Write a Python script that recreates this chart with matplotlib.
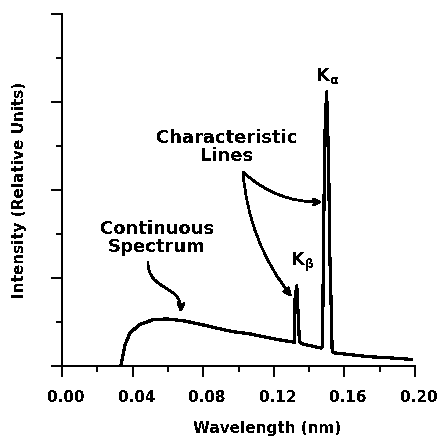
import matplotlib
matplotlib.use("Agg")
import matplotlib.pyplot as plt
from matplotlib.patches import FancyArrowPatch
from matplotlib.path import Path
from matplotlib.transforms import ScaledTranslation

plt.rcParams["font.family"] = ["DejaVu Sans"]
plt.rcParams["font.weight"] = "bold"
plt.rcParams["axes.labelweight"] = "bold"
plt.rcParams["mathtext.default"] = "bf"
plt.rcParams["text.antialiased"] = False
plt.rcParams["lines.antialiased"] = False
plt.rcParams["patch.antialiased"] = False

# X-ray tube emission spectrum: bremsstrahlung continuum plus K lines
wavelength_nm = [0.0333, 0.0357, 0.0385, 0.0442, 0.0516, 0.0593, 0.0686, 0.0782,
                 0.0877, 0.0969, 0.1065, 0.1160, 0.1252, 0.1307, 0.1316, 0.1320,
                 0.1330, 0.1340, 0.1345, 0.1364, 0.1420, 0.1466, 0.1476, 0.1478,
                 0.1483, 0.1490, 0.1499, 0.1505, 0.1512, 0.1517, 0.1527, 0.1530,
                 0.1537, 0.1649, 0.1745, 0.1840, 0.1981]
intensity = [0.00, 0.48, 0.75, 0.95, 1.05, 1.07, 1.03, 0.95,
             0.86, 0.78, 0.73, 0.65, 0.58, 0.55, 0.53, 1.50,
             1.82, 1.00, 0.55, 0.50, 0.45, 0.41, 0.45, 1.30,
             3.30, 5.30, 6.23, 5.50, 4.20, 2.60, 1.05, 0.40,
             0.30, 0.25, 0.21, 0.19, 0.15]

x_major = [0.00, 0.04, 0.08, 0.12, 0.16, 0.20]
x_minor = [0.02, 0.06, 0.10, 0.14, 0.18]
x_labels = ["0.00", "0.04", "0.08", "0.12", "0.16", "0.20"]
y_major = [0, 2, 4, 6, 8]
y_minor = [1, 3, 5, 7]

fig = plt.figure(figsize=(4.40, 4.38), dpi=100)
ax = fig.add_axes([62 / 440, 72 / 438, 353 / 440, 352 / 438])

ax.plot(wavelength_nm, intensity, color="black", lw=1.6)

ax.set_xlim(0, 0.20)
ax.set_ylim(0, 8)
for side in ("top", "right"):
    ax.spines[side].set_visible(False)
for side in ("left", "bottom"):
    ax.spines[side].set_linewidth(1.4)

ax.set_xticks(x_major)
ax.set_xticklabels(x_labels, fontsize=11)
ax.set_xticks(x_minor, minor=True)
ax.set_yticks(y_major)
ax.set_yticks(y_minor, minor=True)
ax.set_yticklabels([])
ax.tick_params(which="major", direction="out", length=8, width=1.4, pad=9)
ax.tick_params(which="minor", direction="out", length=4, width=1.4)

# tick labels sit slightly right of their ticks
shift = ScaledTranslation(4 / 100, 0, fig.dpi_scale_trans)
for lbl in ax.get_xticklabels():
    lbl.set_transform(lbl.get_transform() + shift)

ax.set_xlabel("Wavelength (nm)", fontsize=11)
ax.xaxis.set_label_coords(0.58, -0.155)
ax.set_ylabel("Intensity (Relative Units)", fontsize=11)
ax.yaxis.set_label_coords(-0.098, 0.5)

# Peak labels
ax.text(0.1500, 6.59, r"K$_\alpha$", fontsize=13, ha="center", va="center")
ax.text(0.1360, 2.36, r"K$_\beta$", fontsize=13, ha="center", va="center")

# Annotation text blocks
ax.text(0.0935, 4.98, "Characteristic\nLines", fontsize=13, ha="center",
        va="center", linespacing=1.0)
ax.text(0.0538, 2.92, "Continuous\nSpectrum", fontsize=13, ha="center",
        va="center", linespacing=1.0)

arrow_style = "->,head_length=0.5,head_width=0.22"
ax.annotate("", xy=(0.1473, 3.73), xytext=(0.1025, 4.41),
            arrowprops=dict(arrowstyle=arrow_style, color="black", lw=1.2,
                            connectionstyle="arc3,rad=0.2",
                            shrinkA=0, shrinkB=0))
ax.annotate("", xy=(0.1301, 1.575), xytext=(0.1025, 4.41),
            arrowprops=dict(arrowstyle=arrow_style, color="black", lw=1.2,
                            connectionstyle="arc3,rad=0.15",
                            shrinkA=0, shrinkB=0))

# S-shaped pointer to the continuum
curve = Path([(0.0487, 2.36), (0.0487, 1.70), (0.0680, 1.85), (0.0672, 1.23)],
             [Path.MOVETO, Path.CURVE4, Path.CURVE4, Path.CURVE4])
ax.add_patch(FancyArrowPatch(path=curve, arrowstyle=arrow_style, color="black",
                             lw=1.2, mutation_scale=10))

fig.savefig("out.png", dpi=100)
